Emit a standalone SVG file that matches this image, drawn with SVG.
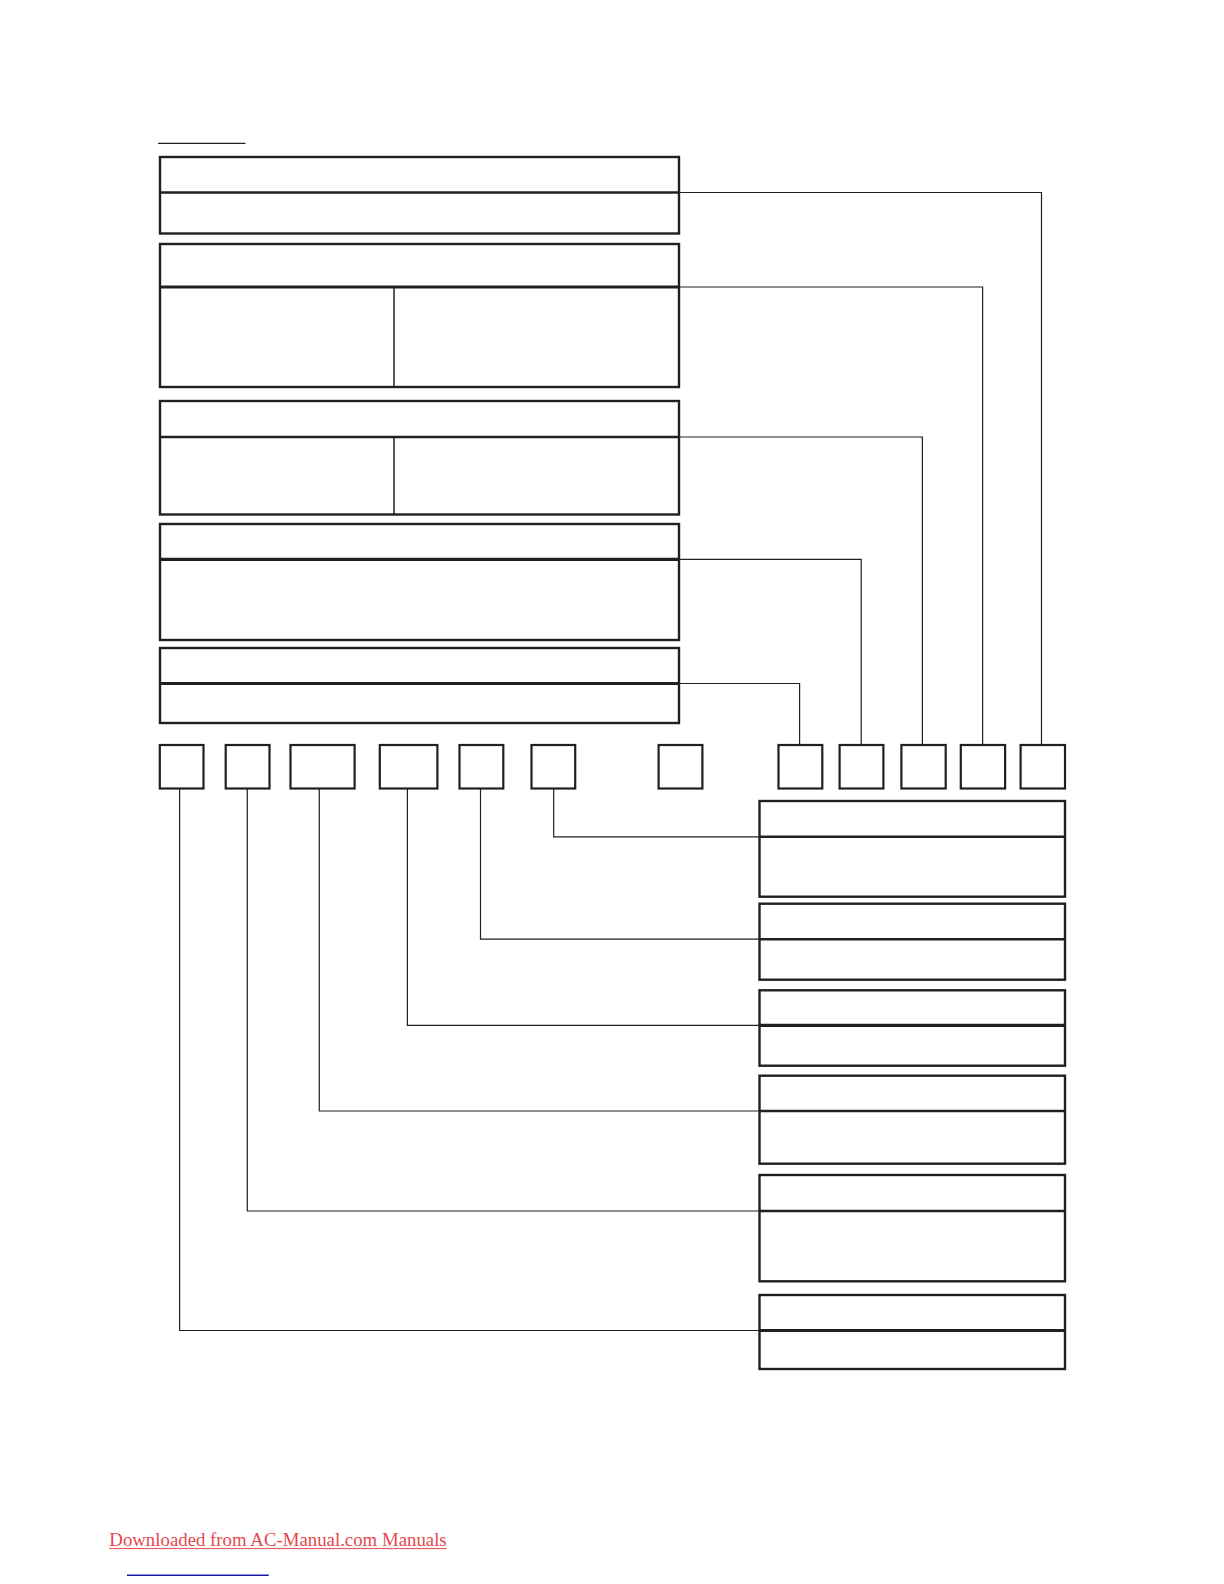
<svg xmlns="http://www.w3.org/2000/svg" width="1224" height="1584" viewBox="0 0 1224 1584">
<style>
.box{fill:none;stroke:#231f20;stroke-width:2.4}
.div{fill:none;stroke:#231f20;stroke-width:2.4}
.thk{fill:none;stroke:#231f20;stroke-width:3.2}
.vdiv{fill:none;stroke:#231f20;stroke-width:1.5}
.sm{fill:none;stroke:#231f20;stroke-width:2.2}
.con{fill:none;stroke:#231f20;stroke-width:1.2}
</style>
<rect width="1224" height="1584" fill="#ffffff"/>
<line x1="158" y1="143.3" x2="245.5" y2="143.3" stroke="#231f20" stroke-width="1.3"/>

<g id="connectors">
<polyline class="con" points="679,192.5 1041.5,192.5 1041.5,745"/>
<polyline class="con" points="679,287 982.6,287 982.6,745"/>
<polyline class="con" points="679,437 922.4,437 922.4,745"/>
<polyline class="con" points="679,559.3 861.2,559.3 861.2,745"/>
<polyline class="con" points="679,683.5 799.6,683.5 799.6,745"/>
<polyline class="con" points="553.7,788.5 553.7,836.8 759.5,836.8"/>
<polyline class="con" points="480.5,788.5 480.5,939.2 759.5,939.2"/>
<polyline class="con" points="407.4,788.5 407.4,1025.3 759.5,1025.3"/>
<polyline class="con" points="319.3,788.5 319.3,1111 759.5,1111"/>
<polyline class="con" points="247.3,788.5 247.3,1211 759.5,1211"/>
<polyline class="con" points="179.6,788.5 179.6,1330.5 759.5,1330.5"/>
</g>

<g id="box1">
<rect class="box" x="160" y="157" width="519" height="76.5"/>
<line class="div" x1="160" y1="192.5" x2="679" y2="192.5"/>
</g>
<g id="box2">
<rect class="box" x="160" y="244" width="519" height="143"/>
<line class="thk" x1="160" y1="287" x2="679" y2="287"/>
<line class="vdiv" x1="394" y1="287" x2="394" y2="387"/>
</g>
<g id="box3">
<rect class="box" x="160" y="401" width="519" height="113.5"/>
<line class="div" x1="160" y1="437" x2="679" y2="437"/>
<line class="vdiv" x1="394" y1="437" x2="394" y2="514.5"/>
</g>
<g id="box4">
<rect class="box" x="160" y="524" width="519" height="116"/>
<line class="thk" x1="160" y1="559.3" x2="679" y2="559.3"/>
</g>
<g id="box5">
<rect class="box" x="160" y="648" width="519" height="75"/>
<line class="thk" x1="160" y1="683.5" x2="679" y2="683.5"/>
</g>

<g id="sA"><rect class="sm" x="159.8" y="745" width="43.7" height="43.5"/></g>
<g id="sB"><rect class="sm" x="225.7" y="745" width="43.8" height="43.5"/></g>
<g id="sC"><rect class="sm" x="290.5" y="745" width="64.1" height="43.5"/></g>
<g id="sD"><rect class="sm" x="379.8" y="745" width="57.6" height="43.5"/></g>
<g id="sE"><rect class="sm" x="459.5" y="745" width="43.8" height="43.5"/></g>
<g id="sF"><rect class="sm" x="531.5" y="745" width="43.7" height="43.5"/></g>
<g id="sG"><rect class="sm" x="658.6" y="745" width="43.8" height="43.5"/></g>
<g id="sH"><rect class="sm" x="778.5" y="745" width="43.8" height="43.5"/></g>
<g id="sI"><rect class="sm" x="839.6" y="745" width="43.8" height="43.5"/></g>
<g id="sJ"><rect class="sm" x="901.4" y="745" width="44.3" height="43.5"/></g>
<g id="sK"><rect class="sm" x="960.8" y="745" width="44.3" height="43.5"/></g>
<g id="sL"><rect class="sm" x="1020.6" y="745" width="44.4" height="43.5"/></g>

<g id="r1">
<rect class="box" x="759.5" y="801" width="305.5" height="95.7"/>
<line class="div" x1="759.5" y1="836.8" x2="1065" y2="836.8"/>
</g>
<g id="r2">
<rect class="box" x="759.5" y="903.7" width="305.5" height="76"/>
<line class="div" x1="759.5" y1="939.2" x2="1065" y2="939.2"/>
</g>
<g id="r3">
<rect class="box" x="759.5" y="990.3" width="305.5" height="75.4"/>
<line class="thk" x1="759.5" y1="1025.3" x2="1065" y2="1025.3"/>
</g>
<g id="r4">
<rect class="box" x="759.5" y="1075.7" width="305.5" height="88"/>
<line class="div" x1="759.5" y1="1111" x2="1065" y2="1111"/>
</g>
<g id="r5">
<rect class="box" x="759.5" y="1175" width="305.5" height="106.3"/>
<line class="div" x1="759.5" y1="1211" x2="1065" y2="1211"/>
</g>
<g id="r6">
<rect class="box" x="759.5" y="1295" width="305.5" height="74"/>
<line class="thk" x1="759.5" y1="1330.5" x2="1065" y2="1330.5"/>
</g>

<text x="109.3" y="1545.7" font-family="Liberation Serif, 'Times New Roman', serif" font-size="18.7" fill="#e5484d" textLength="337.4" lengthAdjust="spacingAndGlyphs">Downloaded from AC-Manual.com Manuals</text>
<line x1="109.3" y1="1548.6" x2="446.7" y2="1548.6" stroke="#e5484d" stroke-width="1"/>
<line x1="127" y1="1575.3" x2="268.7" y2="1575.3" stroke="#1a1aa0" stroke-width="1.4"/>
</svg>
